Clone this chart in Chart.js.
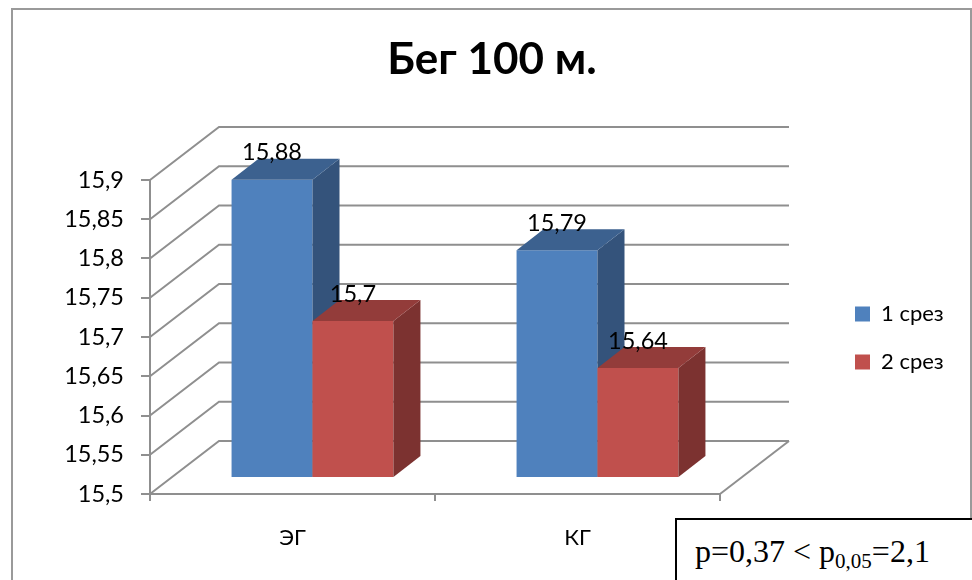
<!DOCTYPE html>
<html>
<head>
<meta charset="utf-8">
<title>Бег 100 м.</title>
<script src="https://cdn.jsdelivr.net/npm/chart.js@4"></script>
<style>
    html, body { margin: 0; padding: 0; background: #fff; overflow: hidden; }
    #wrap { position: relative; width: 972px; height: 580px; }
    canvas { display: block; }
    #note {
        position: absolute; left: 675px; top: 518px; width: 297px; height: 62px;
        box-sizing: border-box; border: 2px solid #000; border-bottom: none; border-right: none;
        background: #fff; font-family: "Liberation Serif", serif; font-size: 32px; color: #000;
        padding: 13px 0 0 18px; white-space: nowrap; line-height: 36px;
    }
    #note sub { font-size: 21px; line-height: 0; vertical-align: -6px; }
</style>
</head>
<body>
<div id="wrap">
    <canvas id="chart" width="972" height="580"></canvas>
    <div id="note">p=0,37 &lt; p<sub>0,05</sub>=2,1</div>
</div>
<script>
const categories = ["ЭГ", "КГ"];
const seriesNames = ["1 срез", "2 срез"];
const series1 = [15.88, 15.79];
const series2 = [15.7, 15.64];
const yLabels = ["15,5", "15,55", "15,6", "15,65", "15,7", "15,75", "15,8", "15,85", "15,9"];
const yMin = 15.5;
const yMax = 15.9;

const FONT = "Lato";
const GRID = "#8f8f8f";
// depth of the back wall and of the bars
const WALL_X = 69, WALL_Y = 53;
const BAR_X = 27, BAR_Y = 21;
// bars stand in the middle of the floor, not on its front edge
const SHIFT_X = 20, SHIFT_Y = -16;

const sideColors = [{top: "#3c618f", side: "#34537b"}, {top: "#933c3a", side: "#7c3230"}];

function poly(ctx, pts, color) {
    ctx.beginPath();
    ctx.moveTo(pts[0][0], pts[0][1]);
    for (let i = 1; i < pts.length; i++) ctx.lineTo(pts[i][0], pts[i][1]);
    ctx.closePath();
    ctx.fillStyle = color;
    ctx.fill();
}

const box3d = {
    id: "box3d",
    beforeDraw(chart) {
        // outer frame of the picture, cut off at the bottom
        const ctx = chart.ctx;
        ctx.save();
        ctx.strokeStyle = "#9a9a9a";
        ctx.lineWidth = 2;
        ctx.beginPath();
        ctx.moveTo(12, 580);
        ctx.lineTo(12, 9);
        ctx.lineTo(971, 9);
        ctx.lineTo(971, 580);
        ctx.stroke();
        ctx.restore();
    },
    afterLayout(chart) {
        const lg = chart.legend;
        lg.left = 855 - lg.options.labels.padding;
        lg.right = 972;
        lg.top = 303 - lg.options.labels.padding;
        lg.bottom = 580;
        // title is centred on the whole frame
        chart.titleBlock.left = 12;
        chart.titleBlock.right = 972;
    },
    beforeDatasetDraw() {
        // bars are drawn below, in series order
        return false;
    },
    beforeDatasetsDraw(chart) {
        const ctx = chart.ctx, y = chart.scales.y, a = chart.chartArea;
        ctx.save();
        ctx.strokeStyle = GRID;
        ctx.lineWidth = 2;
        y.ticks.forEach(t => {
            const py = y.getPixelForValue(t.value);
            ctx.beginPath();
            ctx.moveTo(a.left, py);
            ctx.lineTo(a.left + WALL_X, py - WALL_Y);
            ctx.lineTo(a.right + WALL_X, py - WALL_Y);
            ctx.stroke();
        });
        ctx.beginPath();
        ctx.moveTo(a.right, a.bottom);
        ctx.lineTo(a.right + WALL_X, a.bottom - WALL_Y);
        ctx.stroke();
        ctx.restore();
    },
    afterDatasetsDraw(chart) {
        const ctx = chart.ctx;
        ctx.save();
        ctx.translate(SHIFT_X, SHIFT_Y);
        chart.data.datasets.forEach((ds, i) => {
            chart.getDatasetMeta(i).data.forEach(el => {
                const p = el.getProps(["x", "y", "base", "width"], true);
                const l = p.x - p.width / 2, r = p.x + p.width / 2;
                el.draw(ctx);
                poly(ctx, [[r, p.y], [r + BAR_X, p.y - BAR_Y], [r + BAR_X, p.base - BAR_Y], [r, p.base]], sideColors[i].side);
                poly(ctx, [[l, p.y], [r, p.y], [r + BAR_X, p.y - BAR_Y], [l + BAR_X, p.y - BAR_Y]], sideColors[i].top);
            });
        });
        // value labels go over all the bars
        ctx.fillStyle = "#000";
        ctx.font = "23.5px " + FONT;
        ctx.textAlign = "center";
        ctx.textBaseline = "middle";
        chart.data.datasets.forEach((ds, i) => {
            chart.getDatasetMeta(i).data.forEach((el, j) => {
                const p = el.getProps(["x", "y"], true);
                ctx.fillText(String(ds.data[j]).replace(".", ","), p.x, p.y - 27);
            });
        });
        ctx.restore();
    }
};

new Chart("chart", {
    type: "bar",
    data: {
        labels: categories,
        datasets: [
            {label: seriesNames[0], data: series1, base: yMin, backgroundColor: "#4f81bd", categoryPercentage: 0.568, barPercentage: 1},
            {label: seriesNames[1], data: series2, base: yMin, backgroundColor: "#c0504d", categoryPercentage: 0.568, barPercentage: 1}
        ]
    },
    options: {
        responsive: false,
        animation: false,
        layout: {padding: {left: 12, top: 9, right: 252, bottom: 0}},
        plugins: {
            title: {
                display: true,
                text: "Бег 100 м.",
                color: "#000",
                font: {family: FONT, size: 44, weight: "bold"},
                padding: {top: 24.6, bottom: 93.6}
            },
            legend: {
                position: "chartArea",
                align: "start",
                labels: {
                    boxWidth: 15,
                    boxHeight: 15,
                    padding: 26,
                    color: "#000",
                    font: {family: FONT, size: 22}
                }
            },
            tooltip: {enabled: false}
        },
        scales: {
            x: {
                grid: {color: GRID, lineWidth: 2, drawOnChartArea: false, tickLength: 7},
                border: {color: GRID, width: 2},
                ticks: {color: "#000", font: {family: FONT, size: 22}, padding: 24, maxRotation: 0},
                afterFit(scale) { scale.height = 86; }
            },
            y: {
                min: yMin,
                max: yMax,
                grid: {color: GRID, lineWidth: 2, drawOnChartArea: false, tickLength: 9},
                border: {color: GRID, width: 2},
                ticks: {
                    stepSize: 0.05,
                    color: "#000",
                    font: {family: FONT, size: 23.5},
                    padding: 17,
                    callback: (v, i) => yLabels[i]
                },
                afterFit(scale) { scale.width = 138; }
            }
        }
    },
    plugins: [box3d]
});
</script>
</body>
</html>
